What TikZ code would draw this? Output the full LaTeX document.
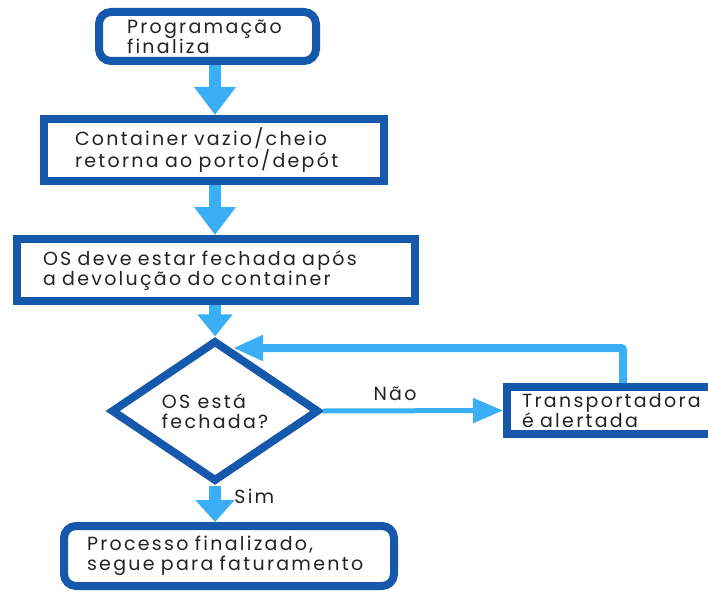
\documentclass[tikz,border=0pt]{standalone}
\usepackage{fontspec}
\setmainfont{Poppins}[LetterSpace=12]
\usetikzlibrary{shapes.geometric,arrows.meta}
\definecolor{dkblue}{HTML}{1658AB}
\definecolor{ltblue}{HTML}{3BAFF5}
\definecolor{ink}{HTML}{222222}
\begin{document}
\begin{tikzpicture}[x=1pt,y=-1pt,
  txt/.style={font=\fontsize{19}{20}\selectfont,text=ink},
  box/.style={txt,draw=dkblue,line width=8pt,align=left,inner ysep=0pt},
  flow/.style={draw=ltblue,line width=12pt,-{Triangle[width=40pt,length=28pt]}},
  thinflow/.style={draw=ltblue,line width=5pt,-{Triangle[width=24pt,length=30pt]}}]
\useasboundingbox (0,0) rectangle (708,591);
% caixas
\node [box,rounded corners=12pt,text width=161pt,inner xsep=28pt,minimum height=49pt] (prog) at (207.5,36.5) {Programação\\finaliza};
\node [box,text width=278pt,inner xsep=31pt,minimum height=62pt] (ret) at (214,150) {Container vazio/cheio\\retorna ao porto/depót};
\node [box,text width=346pt,inner xsep=26pt,minimum height=62pt] (os) at (216,270) {OS deve estar fechada após\\a devolução do container};
\node [box,shape=diamond,inner sep=0pt,minimum width=208pt,minimum height=122pt] (dec) at (215,411) {OS está\\fechada?};
\node [box,text width=200pt,inner xsep=15pt,minimum height=47pt] (alert) at (622,410.5) {Transportadora\\é alertada};
\node [box,rounded corners=12pt,text width=284pt,inner xsep=23pt,minimum height=60pt] (fim) at (229,556) {Processo finalizado,\\segue para faturamento};
\coordinate (back) at (233,348);
% setas
\draw [flow] (prog.south -| dec) -- (ret.north -| dec);
\draw [flow] (ret.south -| dec) -- (os.north -| dec);
\draw [flow,-{Triangle[width=34pt,length=22pt]}] (os.south -| dec) -- (dec.north);
\draw [thinflow] (dec.east) -- (alert.west) node [txt,pos=0.4,above=4pt] {Não};
\draw [flow,line width=8pt,rounded corners=2pt,-{Triangle[width=24pt,length=30pt]}] ([xshift=1pt]alert.north) |- (back);
\draw [flow,-{Triangle[width=38pt,length=22pt]}] (dec.south) -- (fim.north -| dec.south) node [txt,pos=0.3,right=10pt] {Sim};
\end{tikzpicture}
\end{document}
